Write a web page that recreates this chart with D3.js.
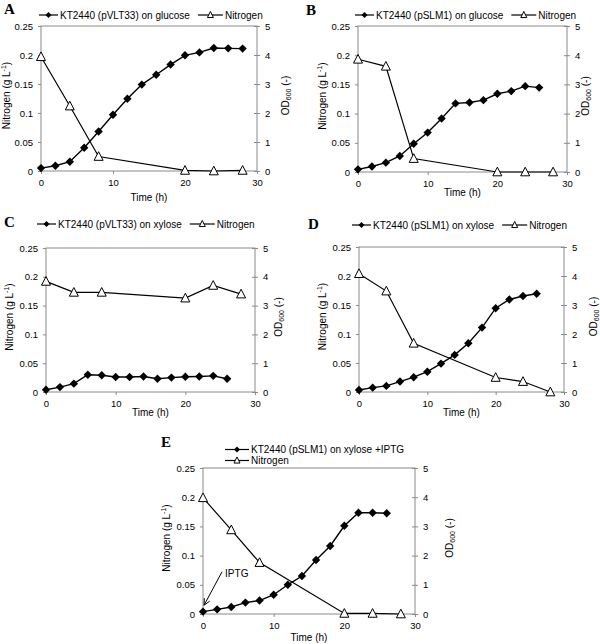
<!DOCTYPE html>
<html>
<head>
<meta charset="utf-8">
<script src="https://cdn.jsdelivr.net/npm/d3@7"></script>
<style>
  body { margin: 0; background: #fff; }
  text { font-family: "Liberation Sans", Arial, sans-serif; }
</style>
</head>
<body>
<svg id="chart" width="600" height="644"></svg>
<script>
// sampling times (h)
var timeOD = [0, 2, 4, 6, 8, 10, 12, 14, 16, 18, 20, 22, 24, 26, 28];
var timeN = [0, 4, 8, 20, 24, 28];

// OD600 readings (right axis)
var odA = [0.10, 0.18, 0.32, 0.80, 1.36, 1.94, 2.49, 2.98, 3.32, 3.67, 3.99, 4.09, 4.24, 4.23, 4.22];
var odB = [0.09, 0.19, 0.32, 0.55, 0.97, 1.35, 1.83, 2.35, 2.38, 2.46, 2.68, 2.77, 2.94, 2.89];
var odC = [0.08, 0.17, 0.29, 0.60, 0.58, 0.52, 0.52, 0.54, 0.46, 0.50, 0.53, 0.54, 0.56, 0.46];
var odD = [0.07, 0.15, 0.21, 0.36, 0.51, 0.70, 0.98, 1.28, 1.68, 2.22, 2.89, 3.19, 3.31, 3.39];
var odE = [0.08, 0.16, 0.24, 0.39, 0.46, 0.66, 1.00, 1.30, 1.85, 2.33, 3.02, 3.47, 3.47, 3.45];

// nitrogen (g/L, left axis)
var nA = [0.197, 0.112, 0.025, 0.001, 0.000, 0.001];
var nB = [0.193, 0.181, 0.023, 0.000, 0.000, 0.000];
var nC = [0.192, 0.173, 0.173, 0.163, 0.185, 0.170];
var nD = [0.204, 0.174, 0.084, 0.025, 0.018, 0.000];
var nE = [0.199, 0.144, 0.088, 0.001, 0.001, 0.000];

var nTicks = [0, 0.05, 0.1, 0.15, 0.2, 0.25];
var odTicks = [0, 1, 2, 3, 4, 5];
var timeTicks = [0, 10, 20, 30];

var labels = ["A", "B", "C", "D", "E"];
var strains = ["KT2440 (pVLT33) on glucose", "KT2440 (pSLM1) on glucose",
               "KT2440 (pVLT33) on xylose", "KT2440 (pSLM1) on xylose",
               "KT2440 (pSLM1) on xylose +IPTG"];

var svg = d3.select("#chart");
var axisColor = "#8a8a8a";

var panels = [
  {x0: 41, x1: 257, y0: 26, y1: 171, lab: [4, 14], leg: [39, 15], twoRow: false, lOff: 31, rOff: 32, tOff: 30, od: odA, n: nA},
  {x0: 358, x1: 567, y0: 26, y1: 172, lab: [306, 15], leg: [355, 15], twoRow: false, lOff: 32, rOff: 22, tOff: 24, od: odB, n: nB},
  {x0: 46, x1: 255, y0: 248, y1: 392, lab: [4, 227], leg: [37, 224], twoRow: false, lOff: 33, rOff: 27, tOff: 24, od: odC, n: nC},
  {x0: 359, x1: 564, y0: 247, y1: 392, lab: [308, 229], leg: [352, 225], twoRow: false, lOff: 33, rOff: 33, tOff: 24, od: odD, n: nD},
  {x0: 203, x1: 415, y0: 468, y1: 614, lab: [161, 447], leg: [225, 449.5], twoRow: true, lOff: 33, rOff: 38, tOff: 27, od: odE, n: nE}
];

function diamond(sel, cx, cy, r) {
  sel.append("path")
    .attr("d", "M" + cx + "," + (cy - r) + "L" + (cx + r) + "," + cy + "L" + cx + "," + (cy + r) + "L" + (cx - r) + "," + cy + "Z")
    .attr("fill", "#000");
}

function triangle(sel, cx, cy, s) {
  var h = s * 0.85;
  sel.append("path")
    .attr("d", "M" + cx + "," + (cy - h / 2 - 1) + "L" + (cx + s / 2) + "," + (cy + h / 2) + "L" + (cx - s / 2) + "," + (cy + h / 2) + "Z")
    .attr("fill", "#fff").attr("stroke", "#000").attr("stroke-width", 1);
}

function drawPanel(p, i) {
  var g = svg.append("g");
  var x = d3.scaleLinear().domain([0, 30]).range([p.x0, p.x1]);
  var yN = d3.scaleLinear().domain([0, 0.25]).range([p.y1, p.y0]);
  var yOD = d3.scaleLinear().domain([0, 5]).range([p.y1, p.y0]);

  // plot frame
  g.append("rect")
    .attr("x", p.x0).attr("y", p.y0)
    .attr("width", p.x1 - p.x0).attr("height", p.y1 - p.y0)
    .attr("fill", "none").attr("stroke", axisColor).attr("stroke-width", 1);

  var left = g.append("g").attr("transform", "translate(" + p.x0 + ",0)")
    .call(d3.axisLeft(yN).tickValues(nTicks).tickSize(3).tickPadding(5)
      .tickFormat(function(d) { return String(+d.toFixed(2)); }));
  var right = g.append("g").attr("transform", "translate(" + p.x1 + ",0)")
    .call(d3.axisRight(yOD).tickValues(odTicks).tickSize(3).tickPadding(5)
      .tickFormat(d3.format("d")));
  right.selectAll(".tick line").attr("x1", -3);
  var bottom = g.append("g").attr("transform", "translate(0," + p.y1 + ")")
    .call(d3.axisBottom(x).tickValues(timeTicks).tickSize(3).tickPadding(5)
      .tickFormat(d3.format("d")));

  [left, right, bottom].forEach(function(a) {
    a.select(".domain").remove();
    a.selectAll(".tick line").attr("stroke", axisColor);
    a.selectAll("text").attr("font-size", 9.5).attr("fill", "#000")
      .style("font-family", "Liberation Sans, Arial, sans-serif");
  });

  // axis titles
  var lt = g.append("text")
    .attr("transform", "translate(" + (p.x0 - p.lOff) + "," + ((p.y0 + p.y1) / 2 - 3) + ") rotate(-90)")
    .attr("text-anchor", "middle").attr("font-size", 10);
  lt.append("tspan").text("Nitrogen (g L");
  lt.append("tspan").attr("font-size", 7).attr("dy", -4).text("-1");
  lt.append("tspan").attr("dy", 4).text(")");

  var rt = g.append("text")
    .attr("transform", "translate(" + (p.x1 + p.rOff) + "," + ((p.y0 + p.y1) / 2 - 3) + ") rotate(-90)")
    .attr("text-anchor", "middle").attr("font-size", 10);
  rt.append("tspan").text("OD");
  rt.append("tspan").attr("font-size", 7).attr("dy", 2).text("600");
  rt.append("tspan").attr("dy", -2).text(" (-)");

  g.append("text")
    .attr("x", (p.x0 + p.x1) / 2).attr("y", p.y1 + p.tOff)
    .attr("text-anchor", "middle").attr("font-size", 10)
    .text("Time (h)");

  // panel letter
  g.append("text")
    .attr("x", p.lab[0]).attr("y", p.lab[1])
    .style("font-family", "Liberation Serif, serif")
    .attr("font-weight", "bold").attr("font-size", 15)
    .text(labels[i]);

  // series lines
  var odData = p.od.map(function(v, k) { return {t: timeOD[k], v: v}; });
  var nData = p.n.map(function(v, k) { return {t: timeN[k], v: v}; });

  g.append("path").datum(nData)
    .attr("fill", "none").attr("stroke", "#000").attr("stroke-width", 1.2)
    .attr("d", d3.line().x(function(d) { return x(d.t); }).y(function(d) { return yN(d.v); }));
  g.append("path").datum(odData)
    .attr("fill", "none").attr("stroke", "#000").attr("stroke-width", 1.4)
    .attr("d", d3.line().x(function(d) { return x(d.t); }).y(function(d) { return yOD(d.v); }));

  odData.forEach(function(d) { diamond(g, x(d.t), yOD(d.v), 4.2); });
  nData.forEach(function(d) { triangle(g, x(d.t), yN(d.v), 9); });

  // legend
  var lx = p.leg[0], ly = p.leg[1];
  var l1 = p.twoRow ? 24 : 19;
  g.append("line").attr("x1", lx).attr("x2", lx + l1).attr("y1", ly).attr("y2", ly)
    .attr("stroke", "#000").attr("stroke-width", 1.2);
  diamond(g, lx + l1 / 2, ly, 3);
  var t1 = g.append("text").attr("x", lx + l1 + 2).attr("y", ly + 3.5)
    .attr("font-size", 10).text(strains[i]);
  var nx, ny, nlen;
  if (p.twoRow) { nx = lx; ny = ly + 11; nlen = 24; }
  else { nx = lx + l1 + 2 + t1.node().getComputedTextLength() + 8; ny = ly; nlen = 25; }
  g.append("line").attr("x1", nx).attr("x2", nx + nlen).attr("y1", ny).attr("y2", ny)
    .attr("stroke", "#000").attr("stroke-width", 1.2);
  triangle(g, nx + nlen / 2, ny, 6);
  g.append("text").attr("x", nx + nlen + 2).attr("y", ny + 3.5)
    .attr("font-size", 10).text("Nitrogen");

  // IPTG annotation on panel E
  if (p.twoRow) {
    var ax1 = x(2.7), ay1 = yOD(1.45), ax2 = x(0.15), ay2 = yOD(0.3);
    g.append("line").attr("x1", ax1).attr("y1", ay1).attr("x2", ax2).attr("y2", ay2)
      .attr("stroke", "#000").attr("stroke-width", 1);
    var ang = Math.atan2(ay2 - ay1, ax2 - ax1);
    [0.45, -0.45].forEach(function(o) {
      g.append("line").attr("x1", ax2).attr("y1", ay2)
        .attr("x2", ax2 - 7 * Math.cos(ang + o)).attr("y2", ay2 - 7 * Math.sin(ang + o))
        .attr("stroke", "#000").attr("stroke-width", 1);
    });
    g.append("text").attr("x", ax1 + 3).attr("y", ay1 + 5)
      .attr("font-size", 10).text("IPTG");
  }
}

panels.forEach(drawPanel);
</script>
</body>
</html>
